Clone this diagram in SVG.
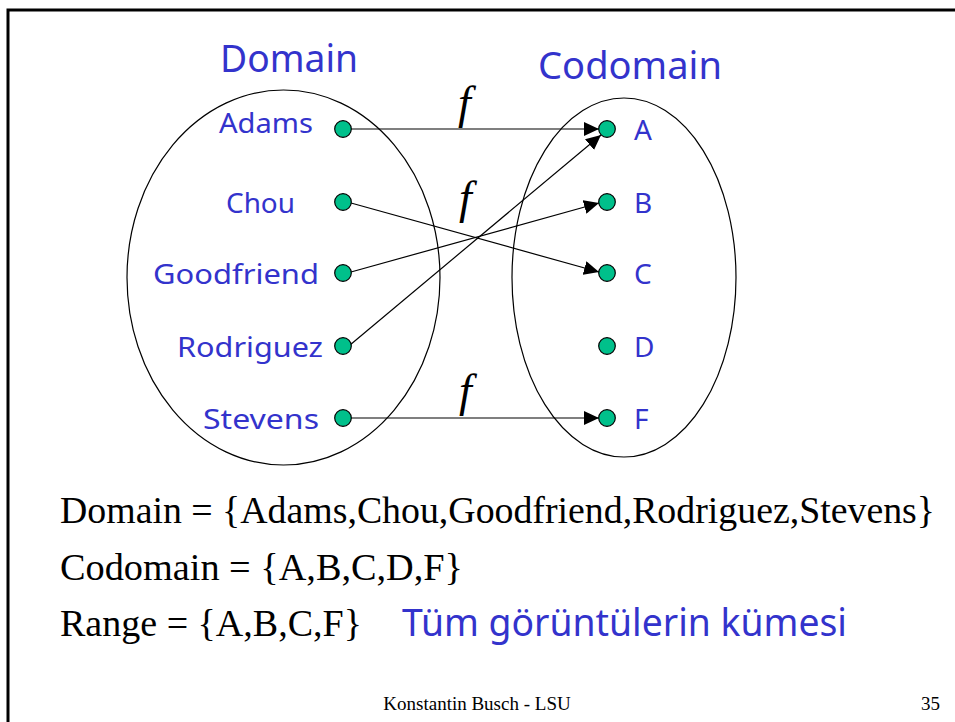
<svg xmlns="http://www.w3.org/2000/svg" width="955" height="722" viewBox="0 0 955 722">
<style>
.blue{fill:#3333CC;font-family:"Noto Sans","DejaVu Sans",sans-serif}
.title{font-size:39px}
.lbl{font-size:28px}
.ser{font-family:"Liberation Serif","Times New Roman",serif;fill:#000}
.eq{font-size:37px}
.f{font-size:46px;font-style:italic}
.dot{fill:#00C08B;stroke:#000;stroke-width:1.2}
.ell{fill:none;stroke:#000;stroke-width:1.2}
.arr{stroke:#000;stroke-width:1.2;fill:none;marker-end:url(#ah)}
</style>
<defs>
<marker id="ah" markerUnits="userSpaceOnUse" markerWidth="16" markerHeight="14" refX="15" refY="7" orient="auto">
<path d="M0,0 L15,7 L0,14 z" fill="#000"/>
</marker>
</defs>
<rect x="0" y="0" width="955" height="722" fill="#fff"/>
<path d="M8,722 V10 H955" fill="none" stroke="#000" stroke-width="3"/>

<g id="domain-set">
<ellipse class="ell" cx="283.5" cy="277.5" rx="156.5" ry="187.5"/>
<text class="blue title" x="220" y="72" textLength="138" lengthAdjust="spacingAndGlyphs">Domain</text>
</g>
<g id="codomain-set">
<ellipse class="ell" cx="624" cy="277.5" rx="112" ry="179.5"/>
<text class="blue title" x="538" y="79" textLength="184" lengthAdjust="spacingAndGlyphs">Codomain</text>
</g>

<g id="connectors">
<line class="arr" x1="351" y1="129" x2="599" y2="129"/>
<line class="arr" x1="351" y1="203" x2="599" y2="272"/>
<line class="arr" x1="351" y1="272" x2="599" y2="203"/>
<line class="arr" x1="350" y1="345" x2="601" y2="135"/>
<line class="arr" x1="351" y1="418" x2="599" y2="418"/>
<text class="ser f" x="458" y="118">f</text>
<text class="ser f" x="459" y="213">f</text>
<text class="ser f" x="459" y="406">f</text>
</g>

<g id="n-adams"><circle class="dot" cx="343" cy="129" r="8.3"/><text class="blue lbl" x="219" y="133" textLength="94" lengthAdjust="spacingAndGlyphs">Adams</text></g>
<g id="n-chou"><circle class="dot" cx="343" cy="202" r="8.3"/><text class="blue lbl" x="226" y="213" textLength="69" lengthAdjust="spacingAndGlyphs">Chou</text></g>
<g id="n-goodfriend"><circle class="dot" cx="343" cy="273" r="8.3"/><text class="blue lbl" x="153" y="284" textLength="166" lengthAdjust="spacingAndGlyphs">Goodfriend</text></g>
<g id="n-rodriguez"><circle class="dot" cx="343" cy="346" r="8.3"/><text class="blue lbl" x="177" y="357" textLength="146" lengthAdjust="spacingAndGlyphs">Rodriguez</text></g>
<g id="n-stevens"><circle class="dot" cx="343" cy="418" r="8.3"/><text class="blue lbl" x="203" y="429" textLength="116" lengthAdjust="spacingAndGlyphs">Stevens</text></g>

<g id="n-A"><circle class="dot" cx="607" cy="129" r="8.3"/><text class="blue lbl" x="634" y="140">A</text></g>
<g id="n-B"><circle class="dot" cx="607" cy="202" r="8.3"/><text class="blue lbl" x="634" y="213">B</text></g>
<g id="n-C"><circle class="dot" cx="607" cy="273" r="8.3"/><text class="blue lbl" x="634" y="284">C</text></g>
<g id="n-D"><circle class="dot" cx="607" cy="346" r="8.3"/><text class="blue lbl" x="634" y="357">D</text></g>
<g id="n-F"><circle class="dot" cx="607" cy="418" r="8.3"/><text class="blue lbl" x="634" y="429">F</text></g>

<g id="equations">
<text class="ser eq" x="60" y="523" textLength="875" lengthAdjust="spacingAndGlyphs">Domain = {Adams,Chou,Goodfriend,Rodriguez,Stevens}</text>
<text class="ser eq" x="60" y="580" textLength="403" lengthAdjust="spacingAndGlyphs">Codomain = {A,B,C,D,F}</text>
<text class="ser eq" x="60" y="636" textLength="302" lengthAdjust="spacingAndGlyphs">Range = {A,B,C,F}</text>
<text class="blue title" x="402" y="636" textLength="445" lengthAdjust="spacingAndGlyphs">Tüm görüntülerin kümesi</text>
</g>

<g id="footer">
<text class="ser" x="477" y="710" font-size="19" text-anchor="middle">Konstantin Busch - LSU</text>
<text class="ser" x="940" y="710" font-size="19" text-anchor="end">35</text>
</g>
</svg>
